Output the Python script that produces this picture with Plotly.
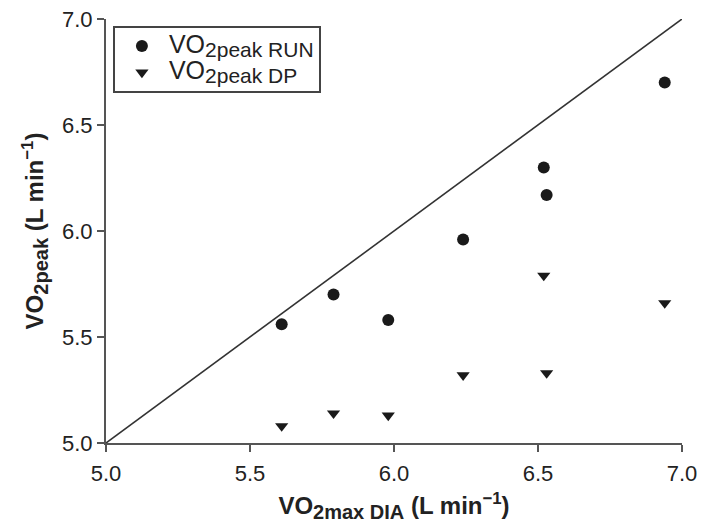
import plotly.graph_objects as go

# Data (L min^-1)
vo2max_dia = [5.61, 5.79, 5.98, 6.24, 6.52, 6.53, 6.94]
vo2peak_run = [5.56, 5.70, 5.58, 5.96, 6.30, 6.17, 6.70]
vo2max_dia_dp = [5.61, 5.79, 5.98, 6.24, 6.53, 6.52, 6.94]
vo2peak_dp = [5.08, 5.14, 5.13, 5.32, 5.33, 5.79, 5.66]
identity = [5.0, 7.0]
tick_vals = [5.0, 5.5, 6.0, 6.5, 7.0]
tick_text = ["5.0", "5.5", "6.0", "6.5", "7.0"]

FONT = "Liberation Sans, Arial, Helvetica, sans-serif"
INK = "#222222"
AXIS = "#555555"


def legend_name(sub):
    return ("<span style='font-size:25px'>VO</span>"
            "<sub><span style='font-size:21px'>" + sub + "</span></sub>")


def axis_title(sub):
    return ("<b>VO<sub><span style='font-size:20px'>" + sub + "</span></sub>"
            " (L min<sup>−1</sup>)</b>")


fig = go.Figure()
fig.add_trace(go.Scatter(x=identity, y=identity, mode="lines",
                         line=dict(color="#333333", width=1.6),
                         showlegend=False, hoverinfo="skip"))
fig.add_trace(go.Scatter(x=vo2max_dia, y=vo2peak_run, mode="markers",
                         name=legend_name("2peak RUN"),
                         marker=dict(symbol="circle", size=12, color="#1a1a1a")))
fig.add_trace(go.Scatter(x=vo2max_dia_dp, y=vo2peak_dp, mode="markers",
                         name=legend_name("2peak DP"),
                         marker=dict(symbol="triangle-down", size=11.5, color="#1a1a1a")))

axis_common = dict(range=[5.0, 7.0], tickvals=tick_vals, ticktext=tick_text,
                   showgrid=False, zeroline=False, showline=True,
                   linecolor=AXIS, linewidth=2, ticks="outside", ticklen=7,
                   tickwidth=2, tickcolor=AXIS, automargin=False,
                   tickfont=dict(family=FONT, size=22, color=INK))

fig.update_xaxes(**axis_common, ticklabelstandoff=3,
                 title=dict(text=axis_title("2max DIA"),
                            font=dict(family=FONT, size=24, color=INK), standoff=12))
fig.update_yaxes(**axis_common,
                 title=dict(text=axis_title("2peak"),
                            font=dict(family=FONT, size=24, color=INK), standoff=12))

fig.update_layout(
    width=701, height=523,
    margin=dict(l=106, r=19, t=19, b=80),
    paper_bgcolor="white", plot_bgcolor="white",
    legend=dict(x=0.012, y=0.984, xanchor="left", yanchor="top",
                bordercolor="#444444", borderwidth=2, bgcolor="white",
                font=dict(family=FONT, size=18, color=INK),
                itemwidth=44, tracegroupgap=0),
    showlegend=True,
)

fig.write_html("out.html")
